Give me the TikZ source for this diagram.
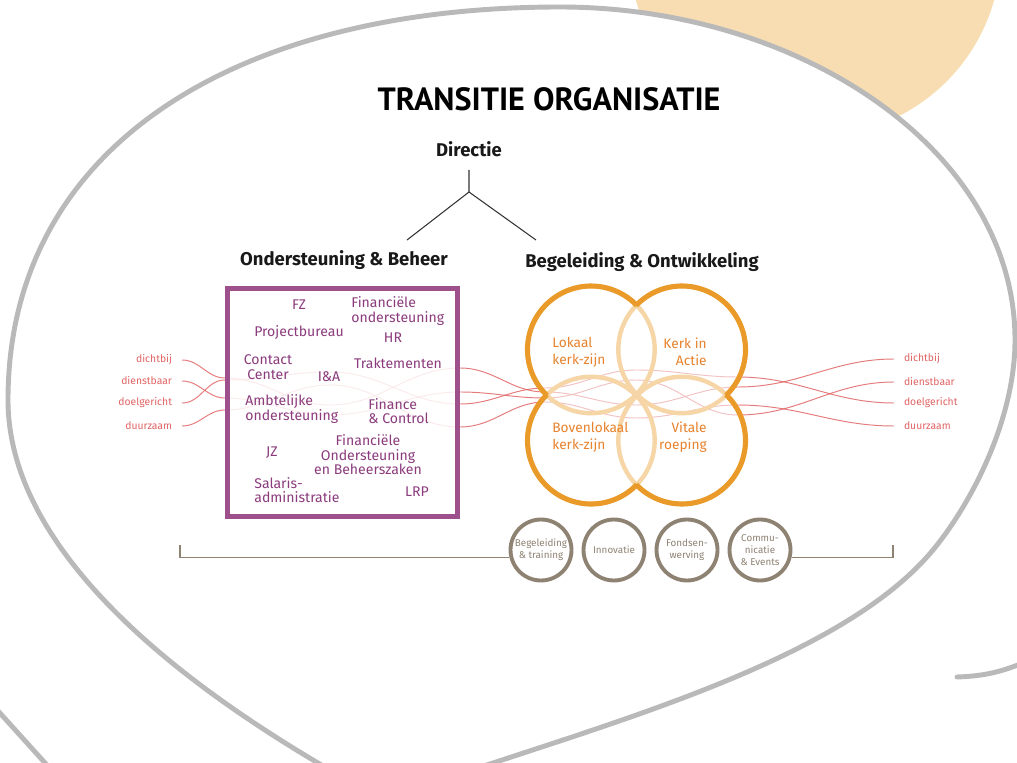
\documentclass[tikz,border=0pt]{standalone}
\usepackage{fontspec}
\setmainfont{Fira Sans}
\newfontfamily\titlefont{PT Sans}
\usepackage{tikz}
\usetikzlibrary{calc}
\definecolor{peach}{RGB}{247,221,177}
\definecolor{rimgrey}{RGB}{185,185,185}
\definecolor{plum}{RGB}{157,80,140}
\definecolor{plumtext}{RGB}{140,60,125}
\definecolor{amber}{RGB}{233,154,40}
\definecolor{amberlight}{RGB}{246,214,166}
\definecolor{ambertext}{RGB}{232,130,44}
\definecolor{rosered}{RGB}{226,100,100}
\definecolor{taupe}{RGB}{142,130,115}

\tikzset{
  rim/.style={draw=rimgrey, line width=2.8pt},
  head/.style={font=\fontsize{10.5}{12}\selectfont\bfseries, text=black!90},
  stem/.style={draw=black!80, line width=0.6pt},
  dept/.style={text=plumtext, font=\fontsize{8}{8.2}\selectfont, inner sep=0pt},
  pillar/.style={text=ambertext, font=\fontsize{7.8}{9.5}\selectfont, inner sep=0pt},
  value/.style={text=rosered, font=\fontsize{5.9}{6}\selectfont, inner xsep=5.5pt},
  rope/.style={draw=rosered, line width=0.55pt, opacity=0.85},
  ringlight/.style={draw=amberlight, line width=2.5pt},
  ringdark/.style={draw=amber, line width=2.9pt},
  unit/.style={circle, draw=taupe, line width=2.2pt, minimum size=1.22cm, inner sep=0pt,
    align=center, text=taupe, font=\fontsize{5.6}{6.8}\selectfont},
  bracket/.style={draw=taupe, line width=0.7pt}
}

\begin{document}
\begin{tikzpicture}[x=0.02cm, y=-0.02cm]
    \useasboundingbox (0,0) rectangle (1017,763);

    % background shapes
    \fill[peach] (815,-50) circle (186);
    \draw[rim, fill=white] (352,783) -- (318,763)
        .. controls (200,693) and (8,560) .. (8,400)
        .. controls (8,150) and (230,7) .. (560,7)
        .. controls (800,7) and (1015,150) .. (1015,340)
        .. controls (1015,420) and (971,504) .. (933,550)
        .. controls (850,650) and (654,710) .. (493,763) -- (400,793);
    \draw[rim] (-10,702) -- (55,774);
    \draw[rim, line cap=round] (957,677) .. controls (985,676) and (1002,672) .. (1030,660);

    % headings
    \node[font=\titlefont\bfseries\fontsize{18.3}{20}\selectfont] (ttl) at (549,99) {TRANSITIE ORGANISATIE};
    \node[head] (dir) at (469,149) {Directie};
    \node[head] (osb) at (344,260) {Ondersteuning \& Beheer};
    \node[head] (bgo) at (642,262) {Begeleiding \& Ontwikkeling};

    \coordinate (fork) at (469,192);
    \coordinate (lleg) at (407,240);
    \coordinate (rleg) at (536,240);
    \draw[stem] (dir) ++(0,21) -- (fork) -- (lleg);
    \draw[stem] (fork) -- (rleg);

    % values
    \node[value, anchor=east] (ldicht) at (182,360) {dichtbij};
    \node[value, anchor=east] (ldienst) at (182,381) {dienstbaar};
    \node[value, anchor=east] (ldoel) at (182,403) {doelgericht};
    \node[value, anchor=east] (lduur) at (182,426) {duurzaam};
    \node[value, anchor=west] (rdicht) at (894,359) {dichtbij};
    \node[value, anchor=west] (rdienst) at (894,382) {dienstbaar};
    \node[value, anchor=west] (rdoel) at (894,403) {doelgericht};
    \node[value, anchor=west] (rduur) at (894,426) {duurzaam};

    \draw[rope] (ldicht.east) to[out=0,in=180] (225,378) to[out=0,in=180] (330,405)
        to[out=0,in=180] (460,368) to[out=0,in=180] (545,392) to[out=0,in=180] (636,405)
        to[out=0,in=180] (738,387) to[out=0,in=180] (rdicht.west);
    \draw[rope] (ldienst.east) to[out=0,in=180] (225,398) to[out=0,in=180] (330,415)
        to[out=0,in=180] (460,392) to[out=0,in=180] (545,398) to[out=0,in=180] (636,380)
        to[out=0,in=180] (738,415) to[out=0,in=180] (rdienst.west);
    \draw[rope] (ldoel.east) to[out=0,in=180] (225,380) to[out=0,in=180] (330,372)
        to[out=0,in=180] (460,404) to[out=0,in=180] (545,388) to[out=0,in=180] (636,370)
        to[out=0,in=180] (738,377) to[out=0,in=180] (rdoel.west);
    \draw[rope] (lduur.east) to[out=0,in=180] (225,410) to[out=0,in=180] (330,385)
        to[out=0,in=180] (460,427) to[out=0,in=180] (545,402) to[out=0,in=180] (636,418)
        to[out=0,in=180] (738,405) to[out=0,in=180] (rduur.west);

    % Ondersteuning & Beheer
    \node[draw=plum, line width=2.8pt, fill=white, fill opacity=0.85,
        minimum width=4.6cm, minimum height=4.56cm] (osbox) at (342.5,402.5) {};
    \node[dept] (fz) at (299,305) {FZ};
    \node[dept, anchor=west, align=left] (fo) at (351,311) {Financiële\\ondersteuning};
    \node[dept] (pb) at (299,333) {Projectbureau};
    \node[dept] (hr) at (393,338) {HR};
    \node[dept, align=center] (cc) at (268,367) {Contact\\Center};
    \node[dept] (tr) at (398,363) {Traktementen};
    \node[dept] (ia) at (329,377) {I\&A};
    \node[dept, anchor=west, align=left] (ao) at (245,409) {Ambtelijke\\ondersteuning};
    \node[dept, anchor=west, align=left] (fc) at (368,411) {Finance\\\& Control};
    \node[dept] (jz) at (272,453) {JZ};
    \node[dept, align=center] (fob) at (368,455) {Financiële\\Ondersteuning\\en Beheerszaken};
    \node[dept, anchor=west, align=left] (sa) at (254,490) {Salaris-\\administratie};
    \node[dept] (lrp) at (417,492) {LRP};

    % Begeleiding & Ontwikkeling
    \coordinate (hub) at (636.5,395);
    \fill[white, fill opacity=0.55] (hub) ++(225:64.2) circle (63.6) (hub) ++(315:64.2) circle (63.6)
        (hub) ++(135:64.2) circle (63.6) (hub) ++(45:64.2) circle (63.6);
    \foreach \a in {225,315,135,45}
        \draw[ringlight] (hub) ++(\a:64.2) circle (63.6);
    \foreach \a in {225,315,135,45}
        \draw[ringdark] (hub) ++(\a:64.2) ++(\a-91:63.6) arc[start angle=\a-91, end angle=\a+91, radius=63.6];

    \node[pillar, anchor=west, align=left] (lk) at (552,352) {Lokaal\\kerk-zijn};
    \node[pillar, anchor=east, align=right] (ka) at (707,352) {Kerk in\\Actie};
    \node[pillar, anchor=west, align=left] (bk) at (552,437) {Bovenlokaal\\kerk-zijn};
    \node[pillar, anchor=east, align=right] (vr) at (707,437) {Vitale\\roeping};

    % services
    \node[unit] (bt) at (541,550) {Begeleiding\\\& training};
    \node[unit] (in) at (614,550) {Innovatie};
    \node[unit] (fw) at (687,550) {Fondsen-\\werving};
    \node[unit] (ce) at (760,550) {Commu-\\nicatie\\\& Events};

    \coordinate (lbr) at (180,545);
    \coordinate (rbr) at (893,545);
    \draw[bracket] (lbr) |- (bt.193);
    \draw[bracket] (ce.-13) -| (rbr);
\end{tikzpicture}
\end{document}
